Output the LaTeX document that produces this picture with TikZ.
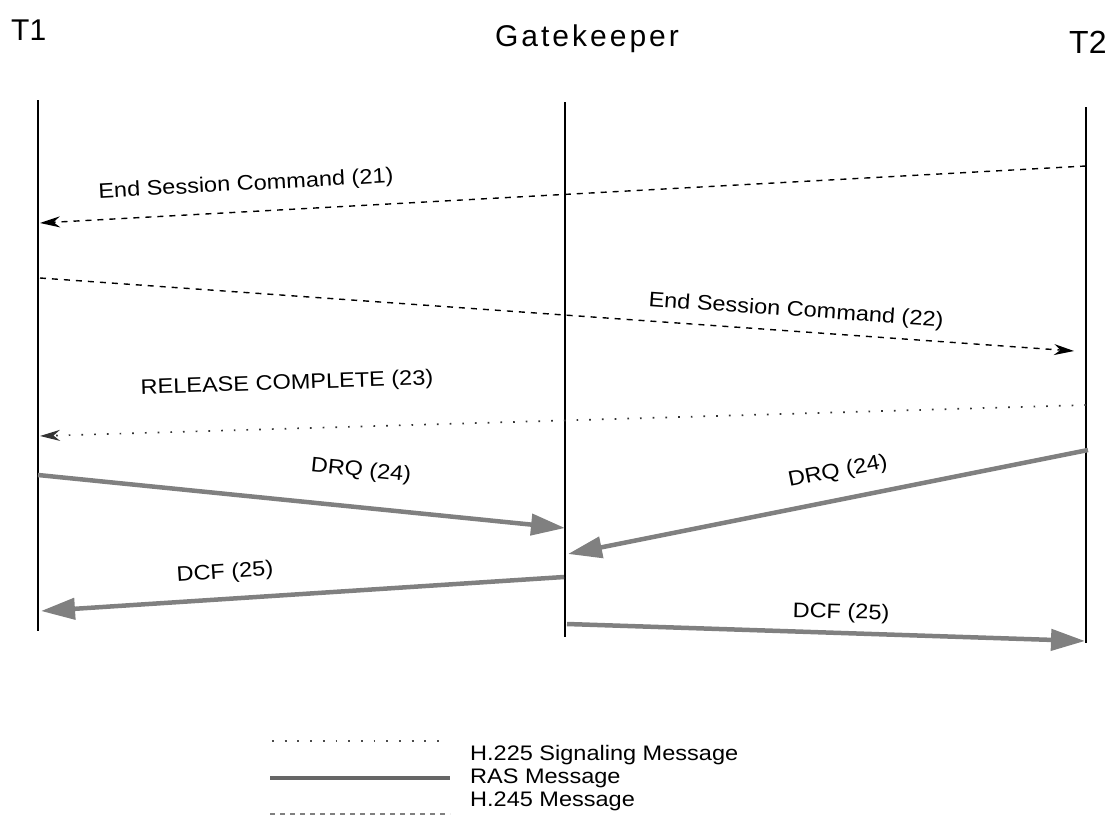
\documentclass[tikz,border=0pt]{standalone}
\usepackage{fontspec}
\setmainfont{Liberation Sans}
\newfontfamily\lblfont[FakeStretch=1.12]{Liberation Sans}
\newfontfamily\gkfont[LetterSpace=10]{Liberation Sans}
\usetikzlibrary{arrows.meta}
\tikzset{
  lifeline/.style={line width=1.8pt, black},
  h245/.style={line width=1.4pt, black, dash pattern=on 6pt off 6pt, -{Stealth[length=20pt,width=11pt]}},
  h225/.style={line width=1.7pt, black!80, dash pattern=on 1.7pt off 11pt, -{Stealth[length=20pt,width=11pt]}},
  ras/.style={line width=4.5pt, black!50, -{Triangle[length=34pt,width=21pt]}},
  head/.style={font=\fontsize{30}{32}\selectfont, inner sep=0pt},
  lbl/.style={font=\lblfont\fontsize{21}{23}\selectfont, inner sep=0pt},
  leg/.style={font=\lblfont\fontsize{21}{23}\selectfont, inner sep=0pt, anchor=base west},
}
\begin{document}
\begin{tikzpicture}[x=1pt,y=-1pt]
\useasboundingbox (0,0) rectangle (1117,816);
% headers
\node[head, anchor=base west] (t1) at (11,41) {T1};
\node[head, anchor=base, font=\gkfont\fontsize{30}{32}\selectfont] (gk) at (587,47) {Gatekeeper};
\node[head, anchor=base west, font=\fontsize{32}{34}\selectfont] (t2) at (1069,54) {T2};
% lifelines
\coordinate (a0) at (38,100); \coordinate (a1) at (38,631);
\coordinate (b0) at (565,102); \coordinate (b1) at (565,637);
\coordinate (c0) at (1086,107); \coordinate (c1) at (1086,643);
\draw[lifeline] (a0) -- (a1);
\draw[lifeline] (b0) -- (b1);
\draw[lifeline] (c0) -- (c1);
% arrow endpoints
\coordinate (m21s) at (1086,166); \coordinate (m21e) at (40,223);
\coordinate (m22s) at (40,278);   \coordinate (m22e) at (1074,351);
\coordinate (m23s) at (1086,405); \coordinate (m23e) at (40,436);
\coordinate (m24as) at (38,475);  \coordinate (m24ae) at (565,528);
\coordinate (m24bs) at (1088,450);\coordinate (m24be) at (568,554);
\coordinate (m25as) at (564,577); \coordinate (m25ae) at (41,611);
\coordinate (m25bs) at (567,624); \coordinate (m25be) at (1085,641);
\draw[h245] (m21s) -- (m21e);
\draw[h245] (m22s) -- (m22e);
\draw[h225] (m23s) -- (m23e);
\draw[ras] (m24as) -- (m24ae);
\draw[ras] (m24bs) -- (m24be);
\draw[ras] (m25as) -- (m25ae);
\draw[ras] (m25bs) -- (m25be);
% labels
\node[lbl, rotate=3.1] (l21) at (246,185) {End Session Command (21)};
\node[lbl, rotate=-4.0] (l22) at (796,311) {End Session Command (22)};
\node[lbl, rotate=1.9] (l23) at (287,384) {RELEASE COMPLETE (23)};
\node[lbl, rotate=-5.7] (l24a) at (361,471) {DRQ (24)};
\node[lbl, rotate=11.0] (l24b) at (838,472) {DRQ (24)};
\node[lbl, rotate=3.7] (l25a) at (225,573) {DCF (25)};
\node[lbl, rotate=-1.5] (l25b) at (841,613) {DCF (25)};
% legend
\coordinate (g1s) at (272,741); \coordinate (g1e) at (440,741);
\coordinate (g2s) at (270,778); \coordinate (g2e) at (450,778);
\coordinate (g3s) at (270,814); \coordinate (g3e) at (450,814);
\draw[line width=1.8pt, black!70, dash pattern=on 1.8pt off 10.9pt] (g1s) -- (g1e);
\draw[line width=4pt, black!60] (g2s) -- (g2e);
\draw[line width=1.2pt, black!50, dash pattern=on 5pt off 5pt] (g3s) -- (g3e);
\node[leg] (k1) at (470,760) {H.225 Signaling Message};
\node[leg] (k2) at (470,783) {RAS Message};
\node[leg] (k3) at (470,806.5) {H.245 Message};
\end{tikzpicture}
\end{document}
